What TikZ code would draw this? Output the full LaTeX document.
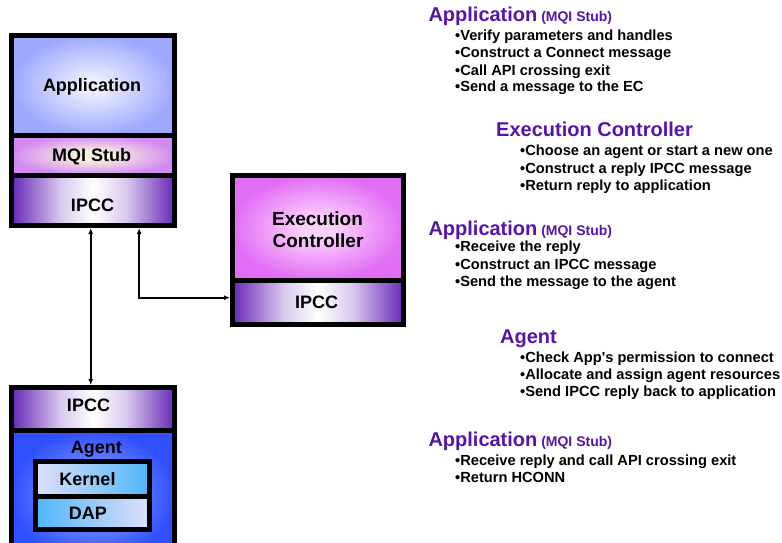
\documentclass[tikz,border=0pt]{standalone}
\usepackage{fontspec}
\setmainfont{Liberation Sans}
\usetikzlibrary{arrows.meta}
\definecolor{hdpurple}{RGB}{88,20,170}
\definecolor{appin}{RGB}{238,240,255}
\definecolor{appout}{RGB}{158,168,255}
\definecolor{mqiin}{RGB}{250,242,222}
\definecolor{mqiout}{RGB}{210,138,242}
\definecolor{ipccdark}{RGB}{104,40,184}
\definecolor{ecin}{RGB}{252,208,252}
\definecolor{ecout}{RGB}{226,110,246}
\definecolor{agin}{RGB}{140,158,255}
\definecolor{agout}{RGB}{48,80,255}
\definecolor{kernlav}{RGB}{224,224,250}
\definecolor{kernblue}{RGB}{78,182,248}
\pgfdeclareradialshading{appshade}{\pgfpointorigin}{color(0bp)=(appin); color(3bp)=(appin); color(25bp)=(appout); color(50bp)=(appout)}
\pgfdeclareradialshading{mqishade}{\pgfpointorigin}{color(0bp)=(mqiin); color(5bp)=(mqiin); color(25bp)=(mqiout); color(50bp)=(mqiout)}
\pgfdeclareradialshading{ecshade}{\pgfpointorigin}{color(0bp)=(ecin); color(5bp)=(ecin); color(25bp)=(ecout); color(50bp)=(ecout)}
\pgfdeclareradialshading{agshade}{\pgfpointorigin}{color(0bp)=(agin); color(4bp)=(agin); color(25bp)=(agout); color(50bp)=(agout)}
\pgfdeclarehorizontalshading{ipccshade}{100bp}{color(0bp)=(ipccdark); color(25bp)=(ipccdark); color(40bp)=(ipccdark!25); color(50bp)=(white); color(60bp)=(ipccdark!25); color(75bp)=(ipccdark); color(100bp)=(ipccdark)}
\newcommand\boxfont{\fontsize{18}{21}\selectfont\bfseries}
\newcommand\hdfont{\fontsize{20}{24}\selectfont\bfseries}
\newcommand\subfont{\fontsize{14}{16}\selectfont\bfseries}
\newcommand\itemfont{\fontsize{14.65}{17}\selectfont\bfseries}
\begin{document}
\begin{tikzpicture}[x=1pt,y=-1pt,
  box/.style={draw=black, line width=5pt, inner sep=0pt, shade},
  lbl/.style={anchor=base, inner sep=0pt, font=\boxfont},
  hd/.style={anchor=base west, inner sep=0pt, text=hdpurple, font=\hdfont},
  itm/.style={anchor=base west, inner sep=0pt, font=\itemfont},
  conn/.style={line width=1.6pt, {Latex[length=6pt,width=5pt]}-{Latex[length=6pt,width=5pt]}}]
\useasboundingbox (0,0) rectangle (782,542);
\clip (0,0) rectangle (782,542);
% Application stack
\node[box, shading=appshade, minimum width=162.7pt, minimum height=100.5pt] (app) at (93.2,85.25) {};
\node[box, shading=mqishade, minimum width=162.7pt, minimum height=40pt] (mqi) at (93.2,155.5) {};
\node[box, shading=ipccshade, minimum width=162.7pt, minimum height=50pt] (appipcc) at (93.2,200.5) {};
\node[lbl] (applbl) at (92,91.7) {Application};
\node[lbl] (mqilbl) at (91.7,161.7) {MQI Stub};
\node[lbl] (appipcclbl) at (92.5,211.7) {IPCC};
% Execution controller
\node[box, shading=ecshade, minimum width=170.8pt, minimum height=104.5pt] (ec) at (317.9,228) {};
\node[box, shading=ipccshade, minimum width=170.8pt, minimum height=43.7pt] (ecipcc) at (317.9,302.2) {};
\node[lbl, font=\fontsize{19}{22}\selectfont\bfseries] (eclbl1) at (317.5,225) {Execution};
\node[lbl, font=\fontsize{19}{22}\selectfont\bfseries] (eclbl2) at (318,247.3) {Controller};
\node[lbl] (ecipcclbl) at (316.5,308) {IPCC};
% Agent stack
\node[box, shading=ipccshade, minimum width=162.7pt, minimum height=42.5pt] (agipcc) at (93.2,408.75) {};
\node[box, shading=agshade, minimum width=162.7pt, minimum height=130pt] (agent) at (93.2,495) {};
\node[box, left color=kernlav, right color=kernblue, minimum width=114pt, minimum height=34.9pt] (kernel) at (92.8,479.25) {};
\node[box, left color=kernblue, right color=kernlav, minimum width=114pt, minimum height=32.5pt] (dap) at (92.8,512.95) {};
\node[lbl] (agipcclbl) at (88.5,411.7) {IPCC};
\node[lbl] (aglbl) at (96.3,453.3) {Agent};
\node[lbl] (kernlbl) at (87.5,485.7) {Kernel};
\node[lbl] (daplbl) at (88,519) {DAP};
% connectors
\draw[conn] ([xshift=-2.5pt]appipcc.south) -- ([xshift=-2.5pt]agipcc.north);
\draw[conn] ([xshift=46pt]appipcc.south) |- ([yshift=4.5pt]ecipcc.west);
% Right-hand text
\node[hd] (h1) at (428.3,21.7) {Application\subfont\ (MQI Stub)};
\node[itm] (i11) at (455,40.7) {•Verify parameters and handles};
\node[itm] (i12) at (455,57.3) {•Construct a Connect message};
\node[itm] (i13) at (455,75) {•Call API crossing exit};
\node[itm] (i14) at (455,91.7) {•Send a message to the EC};
\node[hd] (h2) at (496,136.7) {Execution Controller};
\node[itm] (i21) at (520,155) {•Choose an agent or start a new one};
\node[itm] (i22) at (520,173.3) {•Construct a reply IPCC message};
\node[itm] (i23) at (520,190) {•Return reply to application};
\node[hd] (h3) at (428.3,235) {Application\subfont\ (MQI Stub)};
\node[itm] (i31) at (455,251.7) {•Receive the reply};
\node[itm] (i32) at (455,269.3) {•Construct an IPCC message};
\node[itm] (i33) at (455,286.7) {•Send the message to the agent};
\node[hd] (h4) at (500,343.3) {Agent};
\node[itm] (i41) at (520,362.7) {•Check App\textquotesingle s permission to connect};
\node[itm] (i42) at (520,379.3) {•Allocate and assign agent resources};
\node[itm] (i43) at (520,396.7) {•Send IPCC reply back to application};
\node[hd] (h5) at (428.3,446.7) {Application\subfont\ (MQI Stub)};
\node[itm] (i51) at (455,465) {•Receive reply and call API crossing exit};
\node[itm] (i52) at (455,482.7) {•Return HCONN};
\end{tikzpicture}
\end{document}
